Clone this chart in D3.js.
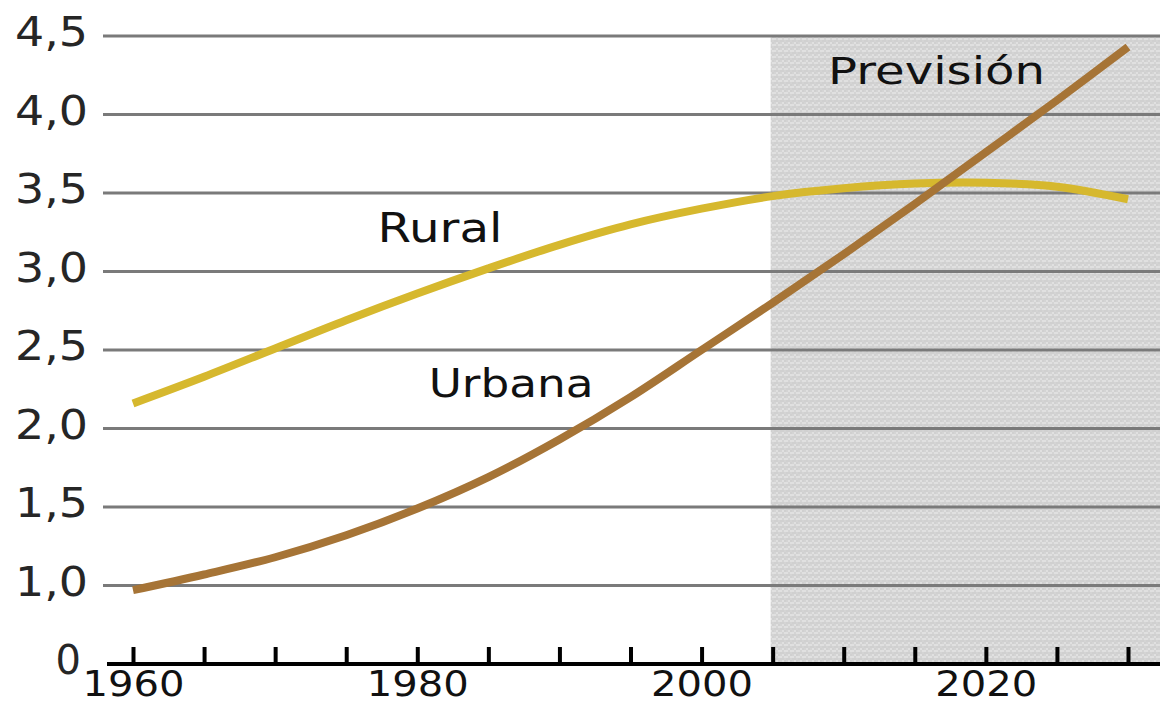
<!DOCTYPE html>
<html><head><meta charset="utf-8">
<script src="https://cdn.jsdelivr.net/npm/d3@7"></script>
<style>body{margin:0;background:#fff}svg{display:block}</style>
</head><body>
<svg id="c" width="1160" height="705"></svg>
<script>
// ---- data ----
const years  = [1960,1965,1970,1975,1980,1985,1990,1995,2000,2005,2010,2015,2020,2025,2030];
const rural  = [2.16,2.33,2.51,2.69,2.86,3.02,3.17,3.30,3.40,3.48,3.53,3.56,3.565,3.54,3.46];
const urbana = [0.97,1.07,1.18,1.32,1.49,1.69,1.93,2.20,2.50,2.80,3.11,3.43,3.76,4.09,4.43];
const yTickValues = [0.5,1,1.5,2,2.5,3,3.5,4,4.5];
const yTickLabels = ["0","1,0","1,5","2,0","2,5","3,0","3,5","4,0","4,5"];
const xTickValues = [1960,1965,1970,1975,1980,1985,1990,1995,2000,2005,2010,2015,2020,2025,2030];
const xLabelYears = [1960,1980,2000,2020];
const forecastStart = 2005;
const forecastLabel = "Previsión";
const seriesNames = ["Rural","Urbana"];

// ---- layout ----
const svg = d3.select("#c");
const x = d3.scaleLinear().domain([1960,2030]).range([133,1128]);
const y = d3.scaleLinear().domain([0.5,4.5]).range([664,36]);
const font = "'DejaVu Sans', sans-serif";

// dither pattern for forecast shading
const defs = svg.append("defs");
const pat = defs.append("pattern").attr("id","dith").attr("patternUnits","userSpaceOnUse")
  .attr("width",6).attr("height",6);
pat.append("rect").attr("width",6).attr("height",6).attr("fill","#e0e0e0");
[[0,0],[4,0],[2,2],[0,4],[4,4],[2,4]].forEach(([a,b],i)=>{
  pat.append("rect").attr("x",a).attr("y",b).attr("width",2).attr("height",2)
    .attr("fill", i%2 ? "#d0d0d0" : "#d4d4d4");
});

svg.append("rect")
  .attr("x", x(forecastStart)-2).attr("y", y(4.5)+1)
  .attr("width", 1160-(x(forecastStart)-2)).attr("height", y(0.5)-y(4.5)-1)
  .attr("fill","url(#dith)");

// gridlines
svg.append("g").selectAll("line").data(yTickValues.filter(v=>v>0.5)).join("line")
  .attr("x1",103).attr("x2",1160)
  .attr("y1",d=>y(d)).attr("y2",d=>y(d))
  .attr("stroke","#7a7a7a").attr("stroke-width",3);

// y tick labels
svg.append("g").selectAll("text").data(yTickValues).join("text")
  .attr("x",(d,i)=> yTickLabels[i].length>1 ? 88 : 81)
  .attr("y",d=>y(d)+10)
  .attr("text-anchor","end")
  .attr("font-family",font).attr("font-size",40).attr("fill","#262626")
  .text((d,i)=>yTickLabels[i])
  .each(function(d,i){ if(yTickLabels[i].length>1){ d3.select(this).attr("textLength",73).attr("lengthAdjust","spacingAndGlyphs"); } });

// x axis
const axisG = svg.append("g").attr("transform",`translate(0,${y(0.5)})`);
const xAxis = d3.axisBottom(x).tickValues(xTickValues).tickSize(-17).tickSizeOuter(0)
  .tickFormat(d=> xLabelYears.includes(d) ? String(d) : "");
axisG.call(xAxis);
axisG.select(".domain").remove();
axisG.append("line").attr("x1",107).attr("x2",1160).attr("y1",0).attr("y2",0)
  .attr("stroke","#000").attr("stroke-width",4);
axisG.selectAll(".tick line").attr("stroke","#000").attr("stroke-width",4);
axisG.selectAll(".tick text").attr("font-family",font).attr("font-size",36)
  .attr("fill","#111").attr("y",0).attr("dy",32)
  .each(function(){ if(this.textContent){ d3.select(this).attr("textLength",102).attr("lengthAdjust","spacingAndGlyphs"); } });

// lines
const line = d3.line().x((d,i)=>x(years[i])).y(d=>y(d)).curve(d3.curveCatmullRom);
svg.append("path").datum(rural).attr("d",line).attr("fill","none")
  .attr("stroke","#d6b82e").attr("stroke-width",8);
svg.append("path").datum(urbana).attr("d",line).attr("fill","none")
  .attr("stroke","#a67436").attr("stroke-width",8);

// labels
const labels = [
  {t: seriesNames[0], yr: 1977.2, v: 3.185, size: 41, w: 125},
  {t: seriesNames[1], yr: 1980.8, v: 2.20,  size: 39, w: 165},
  {t: forecastLabel,  yr: 2008.9, v: 4.195, size: 37, w: 217}
];
svg.append("g").selectAll("text").data(labels).join("text")
  .attr("x",d=>x(d.yr)).attr("y",d=>y(d.v))
  .attr("font-family",font).attr("font-size",d=>d.size).attr("fill","#111")
  .attr("textLength",d=>d.w).attr("lengthAdjust","spacingAndGlyphs")
  .text(d=>d.t);
</script>
</body></html>
